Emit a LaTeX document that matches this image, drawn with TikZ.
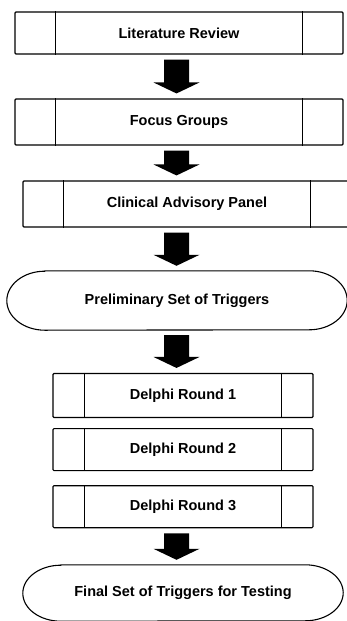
\documentclass[tikz,border=0pt]{standalone}
\usepackage{fontspec}
\setmainfont{Liberation Sans}
\usetikzlibrary{calc,positioning}
\tikzset{proc/.style={draw, rectangle, rounded corners=1pt, line width=1.1pt, inner sep=0pt, minimum height=44pt}}
\tikzset{term/.style={rectangle, inner sep=0pt}}

\begin{document}
\begin{tikzpicture}[x=1pt, y=1pt, font=\bfseries\fontsize{14.5}{17}\selectfont]
\useasboundingbox (0,0) rectangle (347,-621);
\coordinate (ax) at (176.5,0);
\node[proc, minimum width=328pt, minimum height=42pt] (lit) at (179,-33) {Literature Review};
\node[proc, minimum width=328pt, minimum height=46pt] (focus) at (179,-122) {Focus Groups};
\node[proc, minimum width=328pt, minimum height=46pt] (clin) at (187,-204) {Clinical Advisory Panel};
\node[term, minimum width=340pt, minimum height=59pt] (prelim) at (177,-300.5) {Preliminary Set of Triggers};
\node[proc, minimum width=260pt, minimum height=44pt] (d1) at (183,-395.5) {Delphi Round 1};
\node[proc, minimum width=260pt, minimum height=42pt, below=10pt of d1] (d2) {Delphi Round 2};
\node[proc, minimum width=260pt, minimum height=42pt, below=14pt of d2] (d3) {Delphi Round 3};
\node[term, minimum width=320pt, minimum height=56pt] (final) at (183,-593) {Final Set of Triggers for Testing};
% side bars of the process boxes
\foreach \n/\d in {lit/41,focus/41,clin/41,d1/32,d2/32,d3/32}
  \draw[line width=1.1pt] ($(\n.north west)+(\d,0)$) -- ($(\n.south west)+(\d,0)$)
        ($(\n.north east)+(-\d,0)$) -- ($(\n.south east)+(-\d,0)$);
% oval ends
\foreach \n/\r in {prelim/29.5,final/28}
  \draw[line width=1.1pt] ($(\n.north west)+(38,0)$) -- ($(\n.north east)+(-38,0)$)
        arc[start angle=90, end angle=-90, x radius=38pt, y radius=\r pt]
        -- ($(\n.south west)+(38,0)$)
        arc[start angle=270, end angle=90, x radius=38pt, y radius=\r pt] -- cycle;
% block arrows
\foreach \a/\b in {lit/focus,focus/clin,clin/prelim,prelim/d1,d3/final}
  \fill let \p1=($(ax |- \a.south)+(0,-5)$), \p2=($(ax |- \b.north)+(0,5)$) in
    (\x1-12.5pt,\y1) -- (\x1+12.5pt,\y1) -- (\x1+12.5pt,\y2+11pt) -- (\x1+23pt,\y2+11pt)
    -- (\x2,\y2) -- (\x1-23pt,\y2+11pt) -- (\x1-12.5pt,\y2+11pt) -- cycle;
\end{tikzpicture}
\end{document}
